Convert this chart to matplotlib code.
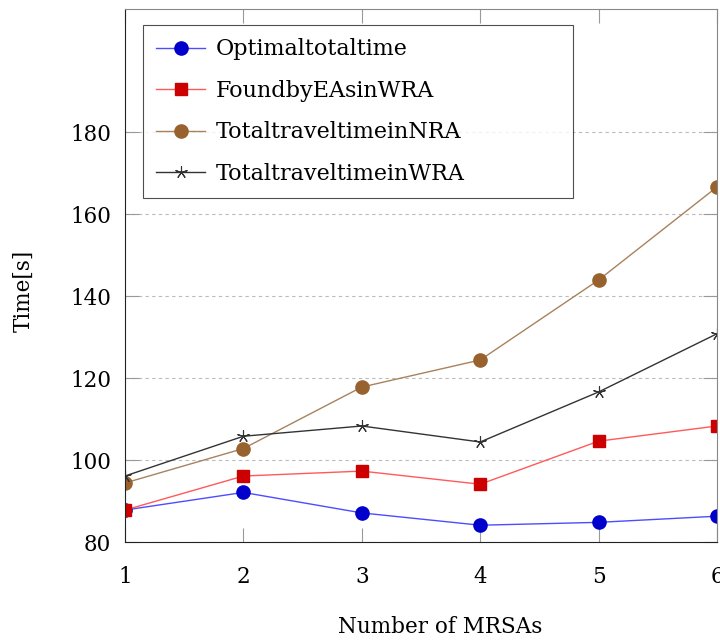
import matplotlib.pyplot as plt

# data
mrsas = [1, 2, 3, 4, 5, 6]
optimal = [87.8, 92.1, 87.1, 84.1, 84.8, 86.3]
found_ea = [87.8, 96.1, 97.3, 94.1, 104.6, 108.3]
nra_time = [94.4, 102.8, 117.8, 124.4, 143.9, 166.6]
wra_time = [96.1, 105.8, 108.3, 104.4, 116.6, 130.8]

labels = ["Optimaltotaltime", "FoundbyEAsinWRA",
          "TotaltraveltimeinNRA", "TotaltraveltimeinWRA"]
yticks = [80, 100, 120, 140, 160, 180]

plt.rcParams['font.family'] = ['DejaVu Serif']

fig = plt.figure(figsize=(7.2, 6.41), dpi=100)
ax = fig.add_axes([0.1736, 0.1544, 0.8222, 0.8315])

ax.plot(mrsas, optimal, color='#4d4dff', lw=1, marker='o', ms=9.5,
        mfc='#0000cc', mec='#0000cc', label=labels[0])
ax.plot(mrsas, found_ea, color='#ff5a5a', lw=1, marker='s', ms=9,
        mfc='#cc0000', mec='#cc0000', label=labels[1])
ax.plot(mrsas, nra_time, color='#a8825e', lw=1, marker='o', ms=9.5,
        mfc='#98622f', mec='#98622f', label=labels[2])
ax.plot(mrsas, wra_time, color='#333333', lw=1, marker=(5, 2, 0), ms=9,
        mew=0.8, mfc='#333333', mec='#333333', label=labels[3])

ax.set_xlim(1, 6)
ax.set_ylim(80, 210)
ax.set_xticks(mrsas)
ax.set_yticks(yticks)
ax.yaxis.grid(True, linestyle=(0, (3, 3)), color='#bbbbbb', lw=0.8)
ax.set_axisbelow(True)

ax.tick_params(direction='in', length=10, width=0.8, color='#999999',
               top=True, right=True, labelsize=15.5)
ax.tick_params(axis='x', pad=17)
ax.tick_params(axis='y', pad=10)
for s in ['top', 'right']:
    ax.spines[s].set_color('#888888')
for s in ['left', 'bottom']:
    ax.spines[s].set_color('#222222')

ax.set_xlabel("Number of MRSAs", fontsize=15.5)
ax.set_ylabel("Time[s]", fontsize=15.5)
ax.xaxis.set_label_coords(0.532, -0.138)
ax.yaxis.set_label_coords(-0.152, 0.471)

leg = ax.legend(loc='upper left', bbox_to_anchor=(0.03, 0.6, 0.726, 0.37),
                mode='expand', fontsize=16,
                frameon=True, fancybox=False, edgecolor='#222222',
                labelspacing=0.88, handlelength=2.2, handletextpad=0.5,
                borderpad=0.6, borderaxespad=0)
leg.get_frame().set_linewidth(0.8)

fig.savefig("out.png", dpi=100)
